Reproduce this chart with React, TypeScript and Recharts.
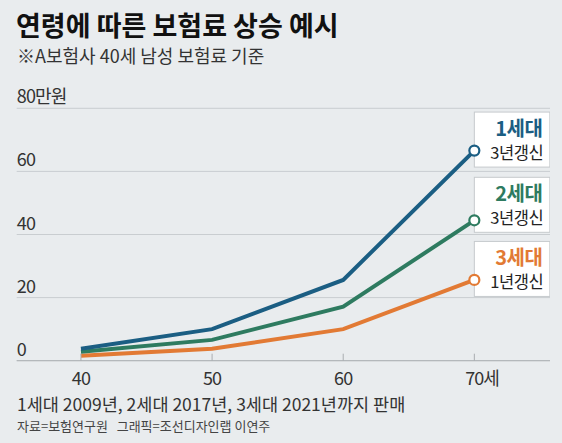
import React from 'react';
import { LineChart, Line, XAxis, YAxis, CartesianGrid } from 'recharts';

// ages on the x axis
const ages = [40, 50, 60, 70];
// premiums (만원) by generation
const gen1 = [3.8, 10, 25.6, 66.6];
const gen2 = [2.8, 6.6, 17.1, 44.5];
const gen3 = [1.6, 3.8, 10, 25.6];
const yTicks = [0, 20, 40, 60, 80];

const data = ages.map((age, i) => ({ age, g1: gen1[i], g2: gen2[i], g3: gen3[i] }));

const FONT = "'Noto Sans CJK KR', 'Noto Sans', sans-serif";
const BLUE = '#1b5e83';
const GREEN = '#2e7b60';
const ORANGE = '#e27a34';

// end-of-line marker with its label box
const makeEndMark = (color: string, name: string, note: string, shift: number) => (props: any) => {
  const { cx, cy, index } = props;
  if (index !== ages.length - 1) return <g key={`d-${name}-${index}`} />;
  return (
    <g key={`end-${name}`}>
      <rect x={cx} y={cy - 38.5 + shift} width={75.5} height={55} fill="#fff" stroke="#c6cacd" strokeWidth={1} />
      <text x={cx + 68} y={cy - 15 + shift} textAnchor="end" fontSize={20} fontWeight={700} fill={color} fontFamily={FONT} letterSpacing={-0.5}>
        {name}
      </text>
      <text x={cx + 69} y={cy + 8.5 + shift} textAnchor="end" fontSize={16.5} fill="#222" fontFamily={FONT} letterSpacing={-0.4}>
        {note}
      </text>
      <circle cx={cx} cy={cy} r={5} fill="#fff" stroke={color} strokeWidth={2.2} />
    </g>
  );
};

const YTick = (props: any) => {
  const { x, y, payload } = props;
  const label = payload.value === 80 ? '80만원' : String(payload.value);
  return (
    <text x={x} y={y - 5} textAnchor="start" fontSize={18} fill="#333" fontFamily={FONT} letterSpacing={-0.8}>
      {label}
    </text>
  );
};

const XTick = (props: any) => {
  const { x, y, payload } = props;
  const last = payload.value === ages[ages.length - 1];
  return (
    <g>
      <line x1={x} x2={x} y1={y} y2={y - 7} stroke="#a9adb0" strokeWidth={1} />
      <text x={x} y={y + 24} textAnchor="middle" fontSize={18} fill="#333" fontFamily={FONT} letterSpacing={-0.8}>
        {payload.value}
      </text>
      {last && (
        <text x={x + 9} y={y + 24} textAnchor="start" fontSize={18} fill="#333" fontFamily={FONT}>
          세
        </text>
      )}
    </g>
  );
};

export default function App() {
  return (
    <div
      style={{
        position: 'absolute',
        left: 0,
        top: 0,
        width: 562,
        height: 443,
        background: '#e9ecee',
        fontFamily: FONT,
        overflow: 'hidden',
      }}
    >
      <svg width={562} height={443} style={{ position: 'absolute', left: 0, top: 0 }}>
        <text x={16} y={35.5} fontSize={27} fontWeight={700} fill="#111" fontFamily={FONT}>
          연령에 따른 보험료 상승 예시
        </text>
        <text x={17} y={63} fontSize={18} fill="#333" fontFamily={FONT}>
          ※A보험사 40세 남성 보험료 기준
        </text>
        <text x={17} y={410.5} fontSize={17.5} fill="#333" fontFamily={FONT}>
          1세대 2009년, 2세대 2017년, 3세대 2021년까지 판매
        </text>
        <text x={17} y={431} fontSize={13} fill="#444" fontFamily={FONT} xmlSpace="preserve" style={{ whiteSpace: 'pre' }}>
          {'자료=보험연구원   그래픽=조선디자인랩 이연주'}
        </text>
      </svg>
      <div style={{ position: 'absolute', left: 0, top: 0 }}>
        <LineChart width={562} height={443} data={data} margin={{ top: 108.3, right: 12, bottom: 52.3, left: 15.7 }}>
          <CartesianGrid horizontal vertical={false} stroke="#c9cdd0" strokeWidth={1} />
          <XAxis
            dataKey="age"
            type="number"
            domain={[35.1, 75.77]}
            allowDataOverflow
            ticks={ages}
            interval={0}
            height={30}
            tickSize={0}
            tickMargin={0}
            tickLine={false}
            axisLine={{ stroke: '#aeb2b5', strokeWidth: 1 }}
            tick={<XTick />}
          />
          <YAxis
            domain={[0, 80]}
            ticks={yTicks}
            interval={0}
            width={1}
            tickSize={0}
            tickMargin={0}
            tickLine={false}
            axisLine={false}
            tick={<YTick />}
          />
          <Line type="linear" dataKey="g3" stroke={ORANGE} strokeWidth={4} isAnimationActive={false} dot={makeEndMark(ORANGE, '3세대', '1년갱신', 0)} activeDot={false} />
          <Line type="linear" dataKey="g2" stroke={GREEN} strokeWidth={4} isAnimationActive={false} dot={makeEndMark(GREEN, '2세대', '3년갱신', -4.5)} activeDot={false} />
          <Line type="linear" dataKey="g1" stroke={BLUE} strokeWidth={4} isAnimationActive={false} dot={makeEndMark(BLUE, '1세대', '3년갱신', 0)} activeDot={false} />
        </LineChart>
      </div>
    </div>
  );
}
